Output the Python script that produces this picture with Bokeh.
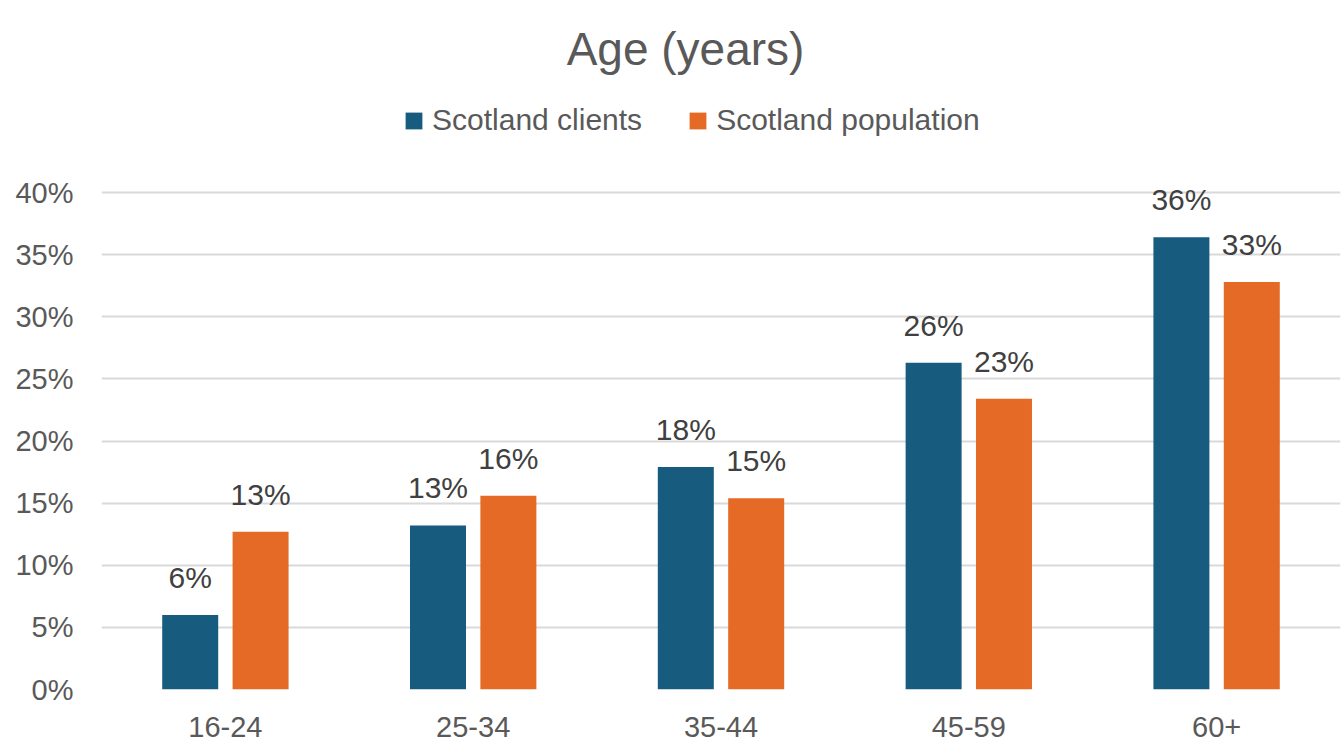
from bokeh.plotting import figure
from bokeh.models import (ColumnDataSource, Range1d, FixedTicker, PrintfTickFormatter,
                          LabelSet, Label, Legend, LegendItem)
from bokeh.core.properties import value
from bokeh.transform import dodge
from bokeh.embed import file_html
from bokeh.resources import INLINE

categories = ["16-24", "25-34", "35-44", "45-59", "60+"]
clients = [6.0, 13.2, 17.9, 26.3, 36.4]
population = [12.7, 15.6, 15.4, 23.4, 32.8]
y_ticks = [0, 5, 10, 15, 20, 25, 30, 35, 40]

BLUE = "#175C7F"
ORANGE = "#E56A25"
GRAY = "#595959"
DARK = "#404040"
FONT = "Liberation Sans"

src = ColumnDataSource(dict(
    cat=categories,
    clients=clients,
    population=population,
    clients_lbl=[f"{round(v)}%" for v in clients],
    population_lbl=[f"{round(v)}%" for v in population],
))

FRAME_BOTTOM = 689
Y_TOP_PX = 192
y_end = 40 * FRAME_BOTTOM / (FRAME_BOTTOM - Y_TOP_PX)

p = figure(x_range=categories, y_range=Range1d(0, y_end), width=1343, height=744,
           output_backend="svg", toolbar_location=None,
           min_border_left=101, min_border_right=3, min_border_top=0, min_border_bottom=744 - FRAME_BOTTOM)
p.outline_line_color = None
p.background_fill_color = "white"
p.border_fill_color = "white"

off = 0.142
bw = 0.226
r1 = p.vbar(x=dodge("cat", -off, range=p.x_range), top="clients", width=bw, bottom=0,
            source=src, fill_color=BLUE, line_color=None)
r2 = p.vbar(x=dodge("cat", off, range=p.x_range), top="population", width=bw, bottom=0,
            source=src, fill_color=ORANGE, line_color=None)

for field, lbl, o in [("clients", "clients_lbl", -off), ("population", "population_lbl", off)]:
    ls = LabelSet(x=dodge("cat", o, range=p.x_range), y=field, text=lbl, source=src,
                  y_offset=27, text_align="center", text_baseline="alphabetic",
                  text_font_size="30px", text_color=DARK, text_font=value(FONT))
    p.add_layout(ls)

# axes
p.yaxis.ticker = FixedTicker(ticks=y_ticks)
p.yaxis.formatter = PrintfTickFormatter(format="%d%%")
for ax in (p.xaxis[0], p.yaxis[0]):
    ax.axis_line_color = None
    ax.major_tick_line_color = None
    ax.minor_tick_line_color = None
    ax.major_tick_out = 0
    ax.major_tick_in = 0
    ax.major_label_text_font_size = "29px"
    ax.major_label_text_color = GRAY
    ax.major_label_text_font = FONT
p.yaxis.major_label_standoff = 28
p.xaxis.major_label_standoff = 27

p.xgrid.grid_line_color = None
p.ygrid.grid_line_color = "#D9D9D9"
p.ygrid.grid_line_width = 2

# title
p.add_layout(Label(x=584, y=641, x_units="screen", y_units="screen", text="Age (years)",
                   text_align="center", text_baseline="alphabetic", text_font_size="46px",
                   text_color=GRAY, text_font=FONT))

legend = Legend(items=[LegendItem(label="Scotland clients", renderers=[r1]),
                       LegendItem(label="Scotland population", renderers=[r2])],
                orientation="horizontal", location=(302, 552),
                glyph_width=21, glyph_height=21, label_standoff=8, spacing=45,
                padding=0, margin=0, border_line_color=None, background_fill_alpha=0,
                label_text_font_size="30px", label_text_color=GRAY, label_text_font=FONT)
p.add_layout(legend)

open("out.html", "w").write(file_html(p, INLINE))
